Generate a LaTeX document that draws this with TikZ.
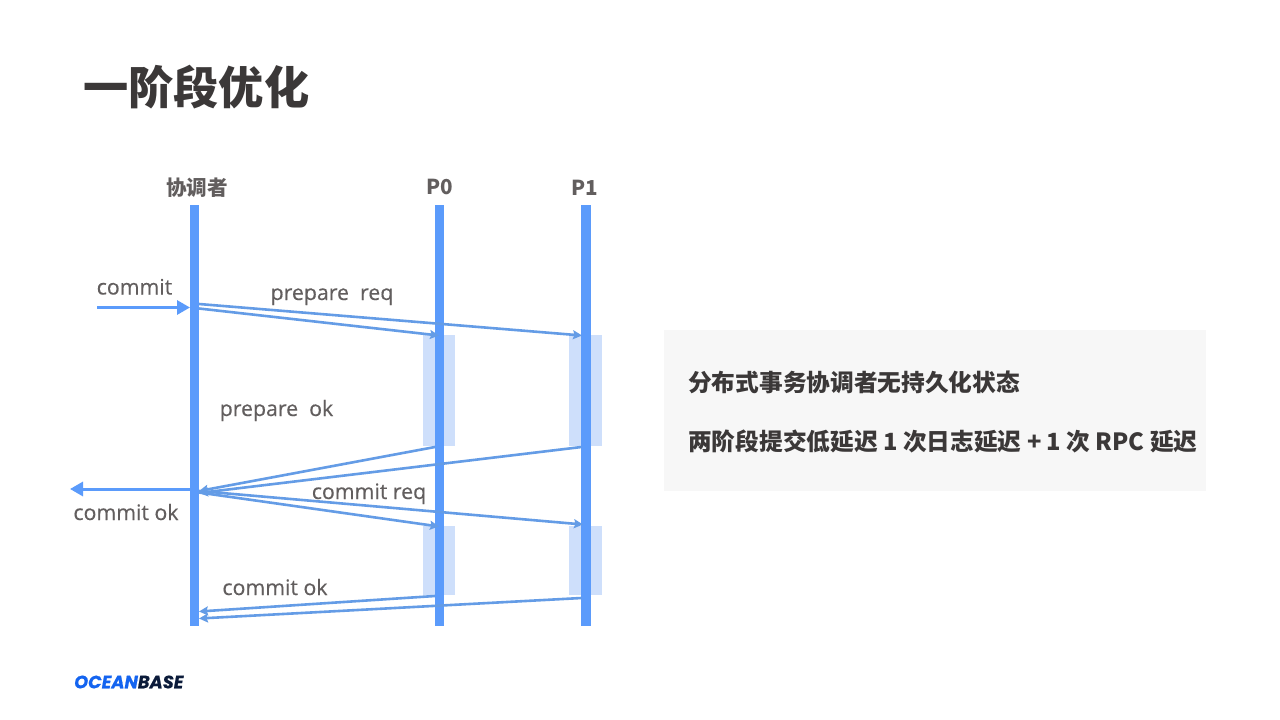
\documentclass[tikz,border=0pt]{standalone}
\usepackage{fontspec}
\setmainfont[FakeBold=0.35]{Open Sans}
\newfontfamily\cjk{Noto Sans CJK SC}
\newfontfamily\logofont[FakeBold=0.6]{Poppins}
\usetikzlibrary{arrows.meta}
\definecolor{barblue}{HTML}{5B9BFB}
\definecolor{linkblue}{HTML}{649CE6}
\definecolor{shade}{HTML}{CEDFFB}
\definecolor{labelgray}{HTML}{625E5E}
\definecolor{titlegray}{HTML}{3B3838}
\definecolor{panelgray}{HTML}{F7F7F7}
\definecolor{logoblue}{HTML}{1464F0}
\definecolor{logonavy}{HTML}{0B1B3A}
\tikzset{
  x=1pt,y=-1pt,
  lane/.style={fill=barblue,draw=none,inner sep=0pt,minimum width=9.5pt,minimum height=421pt},
  shadebox/.style={fill=shade,draw=none,inner sep=0pt,minimum width=32.5pt},
  msg/.style={draw=linkblue,line width=2.6pt,-{Stealth[length=9pt,width=9pt,inset=1.5pt]}},
  extern/.style={draw=barblue,line width=3pt,-{Triangle[length=13pt,width=14pt]}},
  lbl/.style={text=labelgray,font=\fontsize{21.3}{25}\selectfont,inner sep=0pt,anchor=base},
  head/.style={text=labelgray,font=\fontsize{20.6}{24}\selectfont\bfseries\cjk,inner sep=0pt,anchor=center},
  paneltext/.style={text=titlegray,font=\fontsize{23.7}{28}\selectfont\bfseries\cjk,inner sep=0pt,anchor=west},
}
\begin{document}
\begin{tikzpicture}
\useasboundingbox (0,0) rectangle (1280,720);
\fill[white] (0,0) rectangle (1280,720);
\node[text=titlegray,font=\fontsize{45.2}{52}\selectfont\bfseries\cjk,inner sep=0pt,anchor=west] (title) at (83,87) {一阶段优化};

% shaded processing boxes
\node[shadebox,minimum height=111pt] (s0a) at (439,390.5) {};
\node[shadebox,minimum height=111pt] (s1a) at (585.5,390.5) {};
\node[shadebox,minimum height=69pt] (s0b) at (439,560.5) {};
\node[shadebox,minimum height=69pt] (s1b) at (585.5,560.5) {};

% lanes
\node[lane] (c) at (194.5,415.5) {};
\node[lane] (p0) at (439.5,415.5) {};
\node[lane] (p1) at (586,415.5) {};
\node[head] (hc) at (197,188) {协调者};
\node[head] (h0) at (440,187) {P0};
\node[head] (h1) at (585,188) {P1};

% anchor coordinates
\coordinate (in) at (97,307.5);
\coordinate (cin) at (190,307.5);
\coordinate (cu1) at (199,304);
\coordinate (cu2) at (199,308.5);
\coordinate (p0r) at (439,335.5);
\coordinate (p1r) at (582,335.5);
\coordinate (p0o) at (435,447);
\coordinate (p1o) at (581.5,447);
\coordinate (ci1) at (199,491);
\coordinate (ci2) at (199,493);
\coordinate (cout) at (190,489);
\coordinate (out) at (70,489);
\coordinate (cm1) at (199,491);
\coordinate (cm2) at (199,492.5);
\coordinate (p0c) at (439,526.5);
\coordinate (p1c) at (583,524.5);
\coordinate (p0k) at (435,596);
\coordinate (p1k) at (581.5,598);
\coordinate (ce1) at (199,611.5);
\coordinate (ce2) at (199,618.5);

% connectors
\draw[extern] (in) -- (cin);
\draw[extern] (cout) -- (out);
\draw[msg] (cu1) -- (p1r);
\draw[msg] (cu2) -- (p0r);
\draw[msg] (p0o) -- (ci1);
\draw[msg] (p1o) -- (ci2);
\draw[msg] (cm1) -- (p1c);
\draw[msg] (cm2) -- (p0c);
\draw[msg] (p0k) -- (ce1);
\draw[msg] (p1k) -- (ce2);

% labels
\node[lbl] (l1) at (134.5,294.5) {commit};
\node[lbl] (l2) at (332,300) {prepare\ \ req};
\node[lbl] (l3) at (276.5,416) {prepare\ \ ok};
\node[lbl] (l4) at (369,499) {commit req};
\node[lbl] (l5) at (126,520) {commit ok};
\node[lbl] (l6) at (275,595) {commit ok};

% panel
\node[fill=panelgray,draw=none,inner sep=0pt,minimum width=542pt,minimum height=161pt] (panel) at (935,410) {};
\node[paneltext] (t1) at (688,382) {分布式事务协调者无持久化状态};
\node[paneltext] (t2) at (688,441) {两阶段提交低延迟 1 次日志延迟 + 1 次 RPC 延迟};

% logo
\node[inner sep=0pt,anchor=west,font=\fontsize{17.8}{20}\selectfont\logofont\bfseries\itshape] (logo) at (74,682) {\textcolor{logoblue}{OCEAN}\textcolor{logonavy}{BASE}};
\end{tikzpicture}
\end{document}
